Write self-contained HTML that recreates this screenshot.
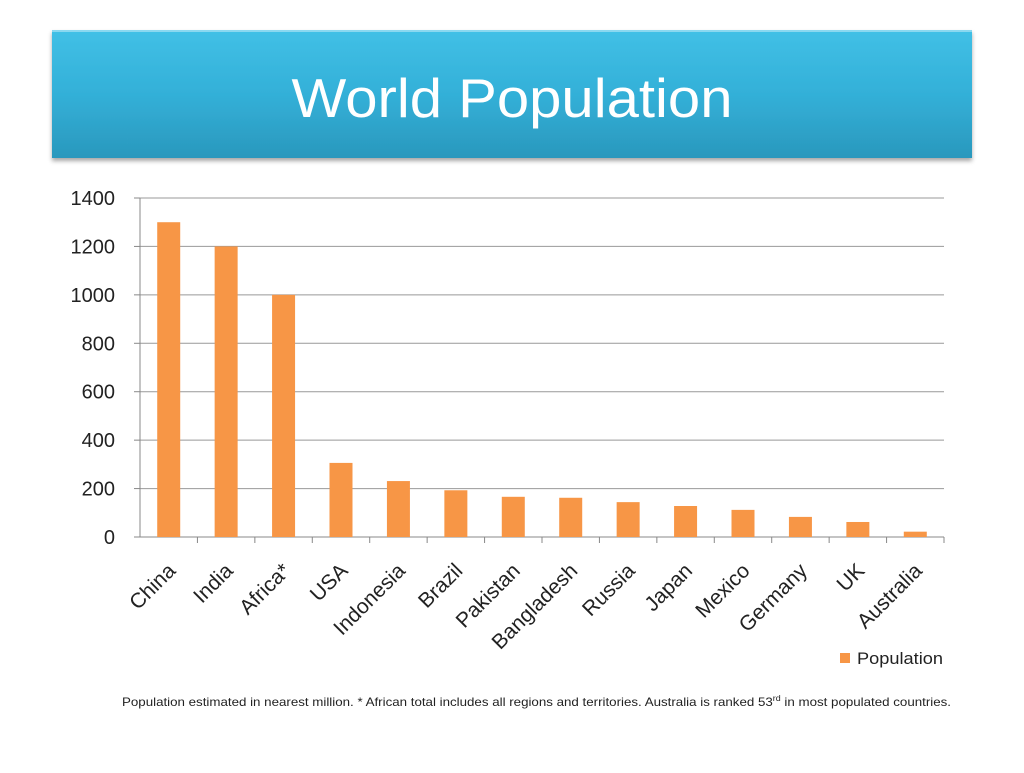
<!DOCTYPE html>
<html><head><meta charset="utf-8"><style>
body{margin:0;width:1024px;height:768px;background:#fff;overflow:hidden;font-family:"Liberation Sans",sans-serif}
</style></head><body>
<svg width="1024" height="768">
<defs>
<linearGradient id="bg" x1="0" y1="0" x2="0" y2="1"><stop offset="0" stop-color="#41c0e6"/><stop offset="0.5" stop-color="#33b0d8"/><stop offset="1" stop-color="#2a98bd"/></linearGradient>
<filter id="sh"><feDropShadow dx="0" dy="3" stdDeviation="2" flood-opacity="0.35"/></filter>
</defs>
<g>
<rect x="52" y="30" width="920" height="128" fill="url(#bg)" filter="url(#sh)"/>
<rect x="52" y="30" width="920" height="2" fill="#8ad8f0"/>
<text x="512" y="117" text-anchor="middle" font-size="55" textLength="441" lengthAdjust="spacingAndGlyphs" fill="#fff">World Population</text>
</g>
<g id="chart"></g>
<g>
<rect x="840" y="653" width="10" height="10" fill="#f79646"/>
<text x="857" y="664" font-size="17" textLength="86" lengthAdjust="spacingAndGlyphs" fill="#222">Population</text>
</g>
<text x="122" y="706" font-size="12" textLength="829" lengthAdjust="spacingAndGlyphs" fill="#222">Population estimated in nearest million. * African total includes all regions and territories.  Australia  is ranked 53<tspan font-size="8" dy="-5">rd</tspan><tspan dy="5"> in most populated countries.</tspan></text>
</svg>
<script>
const categories=["China","India","Africa*","USA","Indonesia","Brazil","Pakistan","Bangladesh","Russia","Japan","Mexico","Germany","UK","Australia"];
const values=[1300,1200,1000,306,231,193,166,162,144,128,112,83,62,22];
const yTicks=[0,200,400,600,800,1000,1200,1400];
const NS="http://www.w3.org/2000/svg";
const g=document.getElementById('chart');
const L=140,R=944,T=198,B=537,yMax=1400;
const y=v=>B-(v/yMax)*(B-T);
const bw=(R-L)/categories.length;
const x=i=>L+bw*(i+0.5);
function mk(t,a){const e=document.createElementNS(NS,t);for(const k in a)e.setAttribute(k,a[k]);g.appendChild(e);return e;}
yTicks.forEach(v=>{
 const ln=mk('line',{x1:L,x2:R,y1:y(v),y2:y(v),stroke:v===0?'#888':'#999','stroke-width':1});
 
 
 const tk=mk('line',{x1:L-6,x2:L,y1:y(v),y2:y(v),stroke:'#888'});
 
 
 const t=mk('text',{x:115,y:y(v)+7,'text-anchor':'end','font-size':20,fill:'#222'});
 t.textContent=v;
 
 
});
const ax=mk('line',{x1:L,x2:L,y1:T,y2:B,stroke:'#888'});


categories.forEach((c,i)=>{
 const tk=mk('line',{x1:L+bw*(i+1),x2:L+bw*(i+1),y1:B,y2:B+6,stroke:'#888'});
 
 
 const r=mk('rect',{x:x(i)-11.5,y:y(values[i]),width:23,height:B-y(values[i]),fill:'#f79646'});
 
 
 const lx=x(i)+8,ly=572;
 const t=mk('text',{x:lx,y:ly,'text-anchor':'end','font-size':21,fill:'#222',transform:`rotate(-45 ${lx} ${ly})`});
 t.textContent=c;
 
 
});
</script>
</body></html>
